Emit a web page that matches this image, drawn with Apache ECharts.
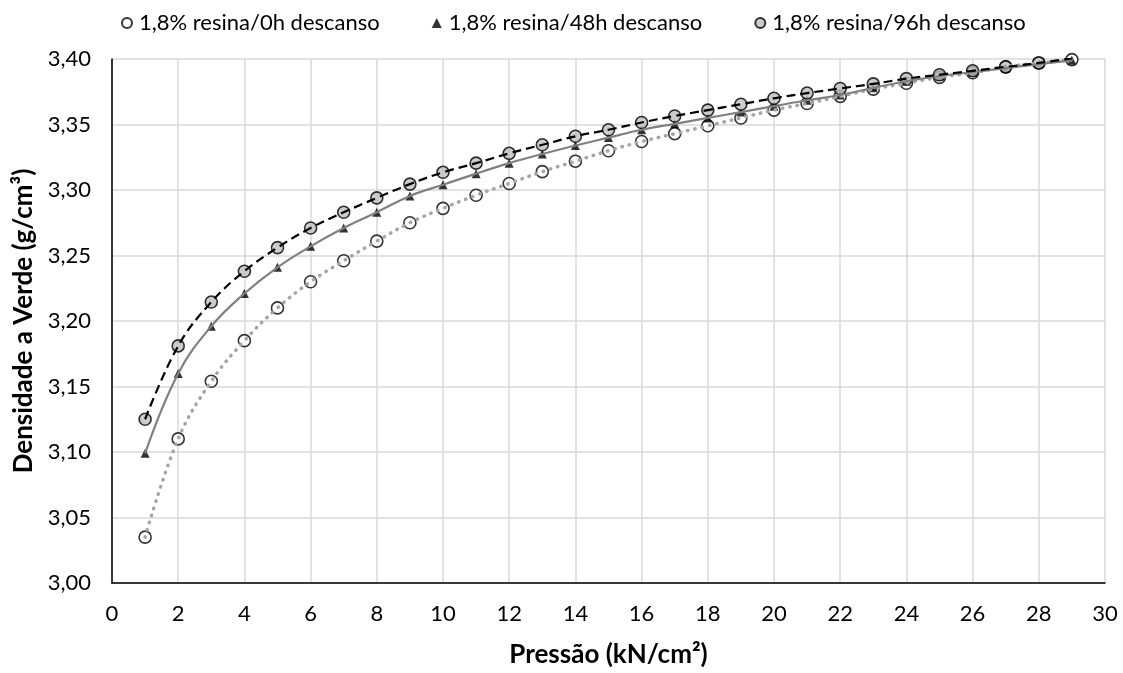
<!DOCTYPE html>
<html>
<head>
<meta charset="utf-8">
<script src="https://cdn.jsdelivr.net/npm/echarts@6/dist/echarts.min.js"></script>
<style>
html,body{margin:0;padding:0;background:#fff;}
#chart{width:1123px;height:673px;}
</style>
</head>
<body>
<div id="chart"></div>
<script>
const pressao = [1,2,3,4,5,6,7,8,9,10,11,12,13,14,15,16,17,18,19,20,21,22,23,24,25,26,27,28,29];
const d0h  = [3.035,3.110,3.154,3.185,3.210,3.230,3.246,3.261,3.275,3.286,3.296,3.305,3.314,3.322,3.330,3.337,3.343,3.349,3.355,3.361,3.366,3.3715,3.377,3.3815,3.386,3.3895,3.394,3.397,3.3995];
const d48h = [3.099,3.160,3.196,3.221,3.241,3.257,3.271,3.283,3.2955,3.304,3.3125,3.3205,3.3275,3.334,3.340,3.346,3.3505,3.355,3.3595,3.364,3.3685,3.3725,3.378,3.383,3.387,3.390,3.393,3.396,3.399];
const d96h = [3.125,3.181,3.2145,3.238,3.256,3.271,3.283,3.294,3.3045,3.3135,3.3205,3.328,3.3345,3.341,3.346,3.3515,3.3565,3.361,3.3655,3.370,3.374,3.3775,3.381,3.385,3.388,3.391,3.394,3.397,3.4005];
const names = ['1,8% resina/0h descanso','1,8% resina/48h descanso','1,8% resina/96h descanso'];
const xTitle = 'Pressão (kN/cm²)';
const yTitle = 'Densidade a Verde (g/cm³)';

const pairs = arr => pressao.map((x,i)=>[x,arr[i]]);
const FONT = 'Lato';

const chart = echarts.init(document.getElementById('chart'));
chart.setOption({
  backgroundColor:'#fff',
  animation:false,
  textStyle:{fontFamily:FONT},
  legend:{
    top:7, left:116,
    itemGap:52, itemWidth:10, itemHeight:10,
    textStyle:{fontFamily:FONT,fontSize:22,color:'#000',padding:[0,0,0,2]},
    data:names
  },
  grid:{left:112,right:18,top:59,bottom:82,containLabel:false},
  xAxis:{
    type:'value',min:0,max:30,interval:2,
    name:xTitle,nameLocation:'middle',nameGap:59,
    nameTextStyle:{fontFamily:FONT,fontSize:26,fontWeight:'bold',color:'#000'},
    axisLine:{show:true,lineStyle:{color:'#000',width:1.5}},
    axisTick:{show:false},
    axisLabel:{fontFamily:FONT,fontSize:22,color:'#000',margin:20},
    splitLine:{show:true,lineStyle:{color:'#D9D9D9',width:1.5}}
  },
  yAxis:{
    type:'value',min:3.0,max:3.4,interval:0.05,
    name:yTitle,nameLocation:'middle',nameGap:71,nameRotate:90,
    nameTextStyle:{fontFamily:FONT,fontSize:26,fontWeight:'bold',color:'#000'},
    axisLine:{show:true,lineStyle:{color:'#000',width:1.5}},
    axisTick:{show:false},
    axisLabel:{fontFamily:FONT,fontSize:22,color:'#000',margin:21,
      formatter:v=>v.toFixed(2).replace('.',',')},
    splitLine:{show:true,lineStyle:{color:'#D9D9D9',width:1.5}}
  },
  series:[
    {name:names[0],type:'scatter',data:pairs(d0h),symbol:'circle',symbolSize:12,z:2,
      itemStyle:{color:'#fff',borderColor:'#000',borderWidth:1.6}},
    {name:names[1],type:'scatter',data:pairs(d48h),symbol:'triangle',symbolSize:9,z:2,
      itemStyle:{color:'#000'}},
    {name:names[2],type:'scatter',data:pairs(d96h),symbol:'circle',symbolSize:12,z:2,
      itemStyle:{color:'#BFBFBF',borderColor:'#000',borderWidth:1.6}},
    {name:'t0',type:'line',data:pairs(d0h),smooth:0.4,showSymbol:false,symbol:'none',z:3,silent:true,
      lineStyle:{color:'#A6A6A6',width:3.5,type:[0.5,7],cap:'round'}},
    {name:'t48',type:'line',data:pairs(d48h),smooth:0.4,showSymbol:false,symbol:'none',z:3,silent:true,
      lineStyle:{color:'#808080',width:2.2,type:'solid'}},
    {name:'t96',type:'line',data:pairs(d96h),smooth:0.4,showSymbol:false,symbol:'none',z:3,silent:true,
      lineStyle:{color:'#000',width:2.2,type:[9,5]}}
  ]
});
</script>
</body>
</html>
